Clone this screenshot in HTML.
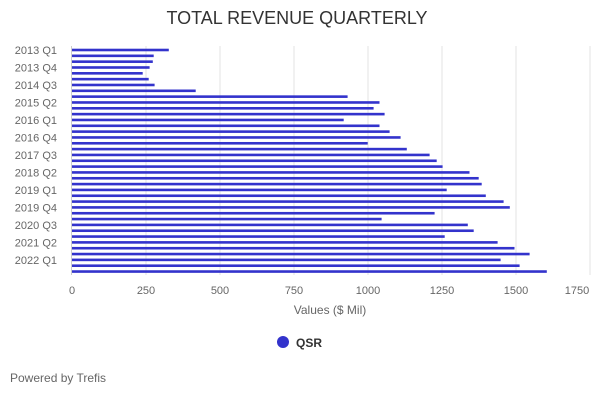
<!DOCTYPE html>
<html><head><meta charset="utf-8"><style>
body{margin:0;background:#fff;}
svg{display:block;font-family:"Liberation Sans",sans-serif;}
</style></head><body>
<svg width="600" height="400" xmlns="http://www.w3.org/2000/svg">
<text x="297" y="24" text-anchor="middle" font-size="18" fill="#333">TOTAL REVENUE QUARTERLY</text>
<g stroke="#e3e3e3" stroke-width="1">
<line x1="146" y1="46" x2="146" y2="275"/><line x1="220" y1="46" x2="220" y2="275"/>
<line x1="294" y1="46" x2="294" y2="275"/><line x1="368" y1="46" x2="368" y2="275"/>
<line x1="442" y1="46" x2="442" y2="275"/><line x1="516" y1="46" x2="516" y2="275"/>
<line x1="590" y1="46" x2="590" y2="275"/>
</g>
<line x1="71.5" y1="46" x2="71.5" y2="275" stroke="#ccc"/>
<g fill="#3333cc">
<rect x="72" y="48.70" width="96.8" height="2.6"/>
<rect x="72" y="54.53" width="81.7" height="2.6"/>
<rect x="72" y="60.36" width="80.8" height="2.6"/>
<rect x="72" y="66.19" width="77.6" height="2.6"/>
<rect x="72" y="72.02" width="70.7" height="2.6"/>
<rect x="72" y="77.85" width="76.7" height="2.6"/>
<rect x="72" y="83.68" width="82.6" height="2.6"/>
<rect x="72" y="89.51" width="123.7" height="2.6"/>
<rect x="72" y="95.34" width="275.6" height="2.6"/>
<rect x="72" y="101.17" width="307.5" height="2.6"/>
<rect x="72" y="107.00" width="301.6" height="2.6"/>
<rect x="72" y="112.83" width="312.6" height="2.6"/>
<rect x="72" y="118.66" width="271.7" height="2.6"/>
<rect x="72" y="124.49" width="307.5" height="2.6"/>
<rect x="72" y="130.32" width="317.6" height="2.6"/>
<rect x="72" y="136.15" width="328.6" height="2.6"/>
<rect x="72" y="141.98" width="295.7" height="2.6"/>
<rect x="72" y="147.81" width="334.8" height="2.6"/>
<rect x="72" y="153.64" width="357.6" height="2.6"/>
<rect x="72" y="159.47" width="364.7" height="2.6"/>
<rect x="72" y="165.30" width="370.6" height="2.6"/>
<rect x="72" y="171.13" width="397.5" height="2.6"/>
<rect x="72" y="176.96" width="406.7" height="2.6"/>
<rect x="72" y="182.79" width="409.7" height="2.6"/>
<rect x="72" y="188.62" width="374.7" height="2.6"/>
<rect x="72" y="194.45" width="413.8" height="2.6"/>
<rect x="72" y="200.28" width="431.6" height="2.6"/>
<rect x="72" y="206.11" width="437.8" height="2.6"/>
<rect x="72" y="211.94" width="362.6" height="2.6"/>
<rect x="72" y="217.77" width="309.6" height="2.6"/>
<rect x="72" y="223.60" width="395.8" height="2.6"/>
<rect x="72" y="229.43" width="401.7" height="2.6"/>
<rect x="72" y="235.26" width="372.7" height="2.6"/>
<rect x="72" y="241.09" width="425.6" height="2.6"/>
<rect x="72" y="246.92" width="442.5" height="2.6"/>
<rect x="72" y="252.75" width="457.6" height="2.6"/>
<rect x="72" y="258.58" width="428.6" height="2.6"/>
<rect x="72" y="264.41" width="447.6" height="2.6"/>
<rect x="72" y="270.24" width="474.8" height="2.6"/>
</g>
<g font-size="11" fill="#666" text-anchor="end">
<text x="57" y="54">2013 Q1</text>
<text x="57" y="71.5">2013 Q4</text>
<text x="57" y="89">2014 Q3</text>
<text x="57" y="106.5">2015 Q2</text>
<text x="57" y="124">2016 Q1</text>
<text x="57" y="141.5">2016 Q4</text>
<text x="57" y="158.9">2017 Q3</text>
<text x="57" y="176.4">2018 Q2</text>
<text x="57" y="193.9">2019 Q1</text>
<text x="57" y="211.4">2019 Q4</text>
<text x="57" y="228.9">2020 Q3</text>
<text x="57" y="246.4">2021 Q2</text>
<text x="57" y="263.9">2022 Q1</text>
</g>
<g font-size="11" fill="#666" text-anchor="middle">
<text x="72" y="294">0</text><text x="146" y="294">250</text><text x="220" y="294">500</text>
<text x="294" y="294">750</text><text x="368" y="294">1000</text><text x="442" y="294">1250</text>
<text x="516" y="294">1500</text><text x="577" y="294">1750</text>
</g>
<text x="330" y="314" text-anchor="middle" font-size="12" fill="#666">Values ($ Mil)</text>
<circle cx="283" cy="342" r="6" fill="#3333cc"/>
<text x="296" y="347" font-size="12" font-weight="bold" fill="#333">QSR</text>
<text x="10" y="382" font-size="12" fill="#666">Powered by Trefis</text>
</svg>
</body></html>
